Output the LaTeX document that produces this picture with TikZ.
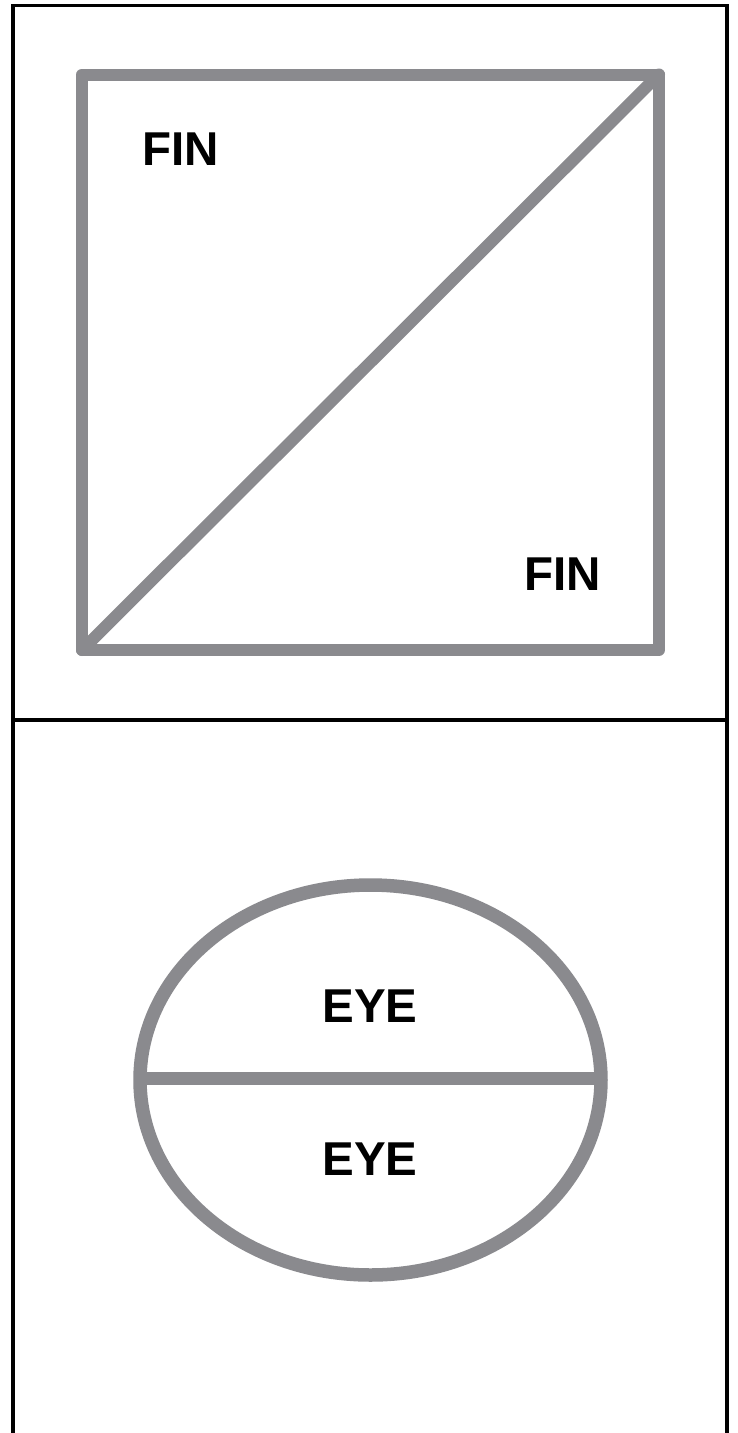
\documentclass[tikz,border=0pt]{standalone}
\usepackage{fontspec}
\setmainfont{Liberation Sans}
\definecolor{shapegray}{HTML}{8A8A8E}
\tikzset{
  frameline/.style={draw=black, line width=3.5pt},
  grayline/.style={draw=shapegray, line width=12pt, line join=round, line cap=round},
  label/.style={font=\bfseries\fontsize{47.5}{50}\selectfont, text=black, inner sep=0pt, anchor=center}
}
\begin{document}
\begin{tikzpicture}[x=1pt,y=-1pt]
\useasboundingbox (0,0) rectangle (738,1433);
\fill[white] (0,0) rectangle (738,1433);
% outer frame
\draw[frameline] (13,1440) -- (13,5.5) -- (727,5.5) -- (727,1440);
\draw[frameline] (13,720) -- (727,720);
% square with diagonal
\draw[grayline] (82,74.5) rectangle (659,650);
\draw[grayline] (82,650) -- (659,74.5);
% ellipse with horizontal line
\draw[grayline, line width=13.5pt] (370.5,1080) ellipse (230.5pt and 195pt);
\draw[grayline, line width=13pt, line cap=butt] (140,1078) -- (601,1078);
% labels
\node[label] (fin1) at (181,149) {FIN};
\node[label] (fin2) at (563,574) {FIN};
\node[label] (eye1) at (370,1006) {EYE};
\node[label] (eye2) at (370,1159) {EYE};
\end{tikzpicture}
\end{document}
